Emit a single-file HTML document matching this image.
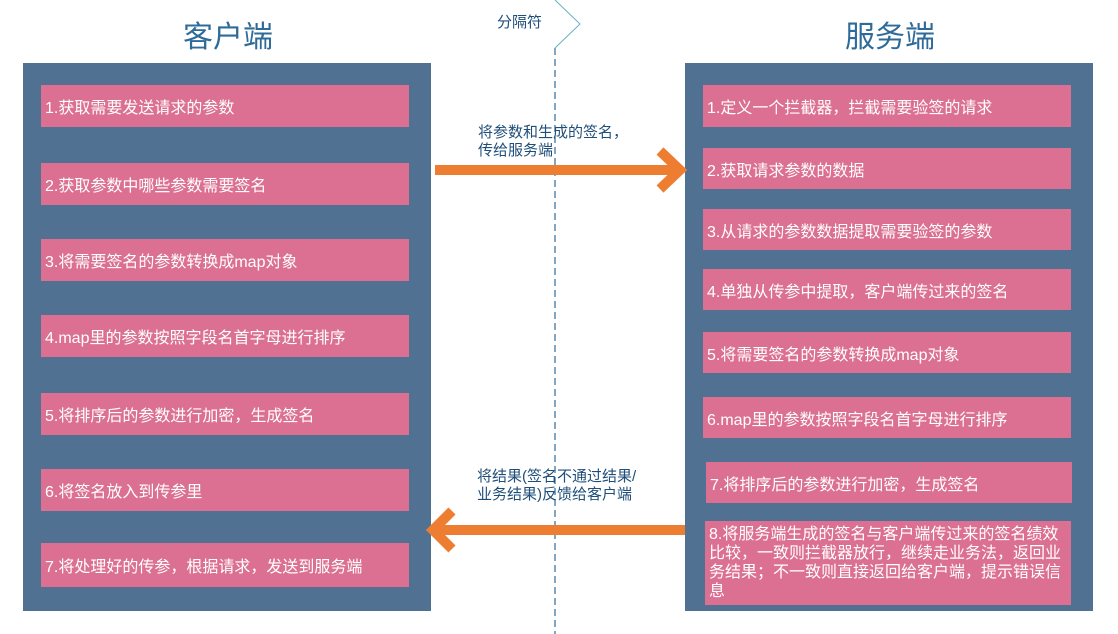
<!DOCTYPE html>
<html><head><meta charset="utf-8"><style>
body{margin:0;width:1118px;height:634px;background:#fff;position:relative;overflow:hidden;font-family:"Liberation Sans","Noto Sans CJK SC",sans-serif;}
.p{position:absolute;background:#517193;}
.b{position:absolute;background:#db7093;color:#fff;font-size:16px;display:flex;align-items:center;padding-left:4px;box-sizing:border-box;}
.t{position:absolute;color:#2f6b99;font-size:30px;}
.l{position:absolute;color:#1f4e79;font-size:15px;line-height:18px;}
</style></head><body>
<div class="t" style="left:183px;top:12px">客户端</div>
<div class="t" style="left:845px;top:12px">服务端</div>
<div class="p" style="left:23px;top:63px;width:408px;height:548px"></div>
<div class="p" style="left:685px;top:63px;width:408px;height:548px"></div>
<div class="b" style="left:41px;top:85px;width:368px;height:42px">1.获取需要发送请求的参数</div>
<div class="b" style="left:41px;top:163px;width:368px;height:42px">2.获取参数中哪些参数需要签名</div>
<div class="b" style="left:41px;top:239px;width:368px;height:42px">3.将需要签名的参数转换成map对象</div>
<div class="b" style="left:41px;top:315px;width:368px;height:42px">4.map里的参数按照字段名首字母进行排序</div>
<div class="b" style="left:41px;top:393px;width:368px;height:42px">5.将排序后的参数进行加密，生成签名</div>
<div class="b" style="left:41px;top:469px;width:368px;height:42px">6.将签名放入到传参里</div>
<div class="b" style="left:41px;top:543px;width:368px;height:44px">7.将处理好的传参，根据请求，发送到服务端</div>
<div class="b" style="left:703px;top:85px;width:368px;height:42px">1.定义一个拦截器，拦截需要验签的请求</div>
<div class="b" style="left:703px;top:148px;width:368px;height:41px">2.获取请求参数的数据</div>
<div class="b" style="left:703px;top:209px;width:368px;height:41px">3.从请求的参数数据提取需要验签的参数</div>
<div class="b" style="left:703px;top:269px;width:368px;height:41px">4.单独从传参中提取，客户端传过来的签名</div>
<div class="b" style="left:703px;top:332px;width:368px;height:41px">5.将需要签名的参数转换成map对象</div>
<div class="b" style="left:703px;top:397px;width:368px;height:41px">6.map里的参数按照字段名首字母进行排序</div>
<div class="b" style="left:706px;top:462px;width:366px;height:41px">7.将排序后的参数进行加密，生成签名</div>
<div class="b" style="left:705px;top:521px;width:366px;height:84px;line-height:19px;align-items:center">8.将服务端生成的签名与客户端传过来的签名绩效比较，一致则拦截器放行，继续走业务法，返回业务结果；不一致则直接返回给客户端，提示错误信息</div>
<svg style="position:absolute;left:0;top:0" width="1118" height="634">
<line x1="555" y1="48" x2="555" y2="634" stroke="#2f6b99" stroke-width="1.2" stroke-dasharray="7,4"/>
<polyline points="555,0 580,24 555,48" fill="none" stroke="#6ab0c8" stroke-width="1"/>
<line x1="435" y1="170" x2="678" y2="170" stroke="#ed7d31" stroke-width="10"/>
<polyline points="660,151 680,170 660,189" fill="none" stroke="#ed7d31" stroke-width="10"/>
<line x1="440" y1="530" x2="685" y2="530" stroke="#ed7d31" stroke-width="10"/>
<polyline points="452,511 433,530 452,549" fill="none" stroke="#ed7d31" stroke-width="10"/>
</svg>
<div class="l" style="left:497px;top:14px">分隔符</div>
<div class="l" style="left:478px;top:124px;width:150px">将参数和生成的签名，传给服务端</div>
<div class="l" style="left:477px;top:468px;width:160px">将结果(签名不通过结果/业务结果)反馈给客户端</div>
</body></html>
